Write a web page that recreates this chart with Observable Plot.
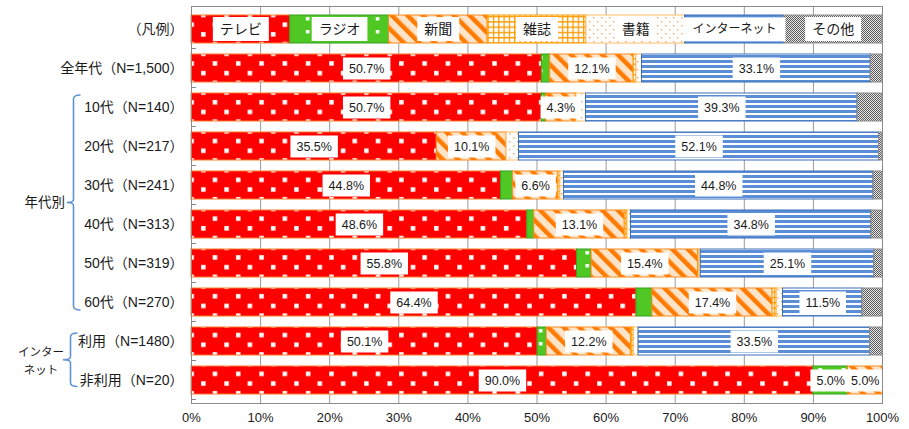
<!DOCTYPE html>
<html><head><meta charset="utf-8">
<script src="https://cdn.jsdelivr.net/npm/d3@7"></script>
<script src="https://cdn.jsdelivr.net/npm/@observablehq/plot@0.6"></script>
<style>body{margin:0;background:#fff} svg{display:block}</style>
</head><body><div id="chart"></div>
<script>
const legendLabel = "（凡例）";
const categories = ["全年代（N=1,500）", "10代（N=140）", "20代（N=217）", "30代（N=241）", "40代（N=313）", "50代（N=319）", "60代（N=270）", "利用（N=1480）", "非利用（N=20）"];
const media = ["テレビ", "ラジオ", "新聞", "雑誌", "書籍", "インターネット", "その他"];
const tv        = [50.7, 50.7, 35.5, 44.8, 48.6, 55.8, 64.4, 50.1, 90.0];
const radio     = [1.2, 0.6, 0.0, 1.7, 1.0, 2.1, 2.3, 1.3, 5.0];
const newspaper = [12.1, 4.3, 10.1, 6.6, 13.1, 15.4, 17.4, 12.2, 5.0];
const magazine  = [0.4, 0.1, 0.0, 0.3, 0.4, 0.2, 0.6, 0.4, 0.0];
const books     = [0.8, 1.4, 1.8, 0.5, 0.5, 0.2, 0.9, 0.7, 0.0];
const internet  = [33.1, 39.3, 52.1, 44.8, 34.8, 25.1, 11.5, 33.5, 0.0];
const other     = [1.7, 3.6, 0.5, 1.3, 1.6, 1.2, 2.9, 1.8, 0.0];
const ticks = [0, 10, 20, 30, 40, 50, 60, 70, 80, 90, 100];
const groupAge = "年代別";
const groupNet = ["インター", "ネット"];

const seriesValues = [tv, radio, newspaper, magazine, books, internet, other];
const fills = ["url(#p-tv)", "url(#p-radio)", "url(#p-news)", "url(#p-mag)", "url(#p-books)", "url(#p-net)", "url(#p-other)"];
const strokes = ["#FF7A2A", "#36A020", "#FF8A1A", "#FF9A00", "#FFBE66", "#3A70B8", "#8C8C8C"];

const rows = [];
media.forEach((m, j) => rows.push({cat: legendLabel, media: m, j, value: 100 / media.length, legend: true}));
categories.forEach((c, i) => media.forEach((m, j) => {
  const v = seriesValues[j][i];
  if (v > 0) rows.push({cat: c, media: m, j, value: v, legend: false});
}));

const chart = Plot.plot({
  width: 909, height: 429,
  marginLeft: 191, marginRight: 27, marginTop: 6, marginBottom: 26,
  style: {fontFamily: "'Liberation Sans','Noto Sans CJK JP',sans-serif", fontSize: "13px", color: "#1a1a1a", background: "#fff"},
  x: {domain: [0, 100]},
  y: {domain: [legendLabel, ...categories], paddingInner: 0.27, paddingOuter: 0.135},
  color: {type: "identity"},
  marks: [
    Plot.gridX(ticks, {stroke: "#9a9a9a", strokeOpacity: 1}),
    Plot.barX(rows, Plot.stackX({x: "value", y: "cat", fill: d => fills[d.j], stroke: d => strokes[d.j], strokeWidth: 1})),
    Plot.text(rows, Plot.stackX({
      x: "value", y: "cat",
      text: d => d.legend ? d.media : (d.value >= 4 ? d.value.toFixed(1) + "%" : ""),
      fontSize: d => d.legend ? (d.media.length > 4 ? 12 : 14) : 12.5,
      fill: "#1a1a1a",
      className: "seglabel"
    })),
    Plot.frame({stroke: "#8a8a8a"}),
    Plot.axisX(ticks, {tickFormat: d => d + "%", tickSize: 0, tickPadding: 9, fontSize: 13, label: null}),
    Plot.axisY({tickSize: 0, tickPadding: 8, fontSize: 14, label: null})
  ]
});
document.getElementById("chart").append(chart);

const svg = d3.select(chart);
const NS = "http://www.w3.org/2000/svg";
const defs = svg.insert("defs", ":first-child");
function pat(id, w, h, extra) {
  const p = defs.append("pattern").attr("id", id).attr("patternUnits", "userSpaceOnUse").attr("width", w).attr("height", h);
  if (extra) p.attr("patternTransform", extra);
  return p;
}
// TV
let p = pat("p-tv", 23.3, 19.4);
p.append("rect").attr("width", 23.3).attr("height", 19.4).attr("fill", "#FF0000");
p.append("rect").attr("x", 3).attr("y", 3).attr("width", 4.5).attr("height", 4.5).attr("fill", "#fff");
p.append("rect").attr("x", 14.65).attr("y", 12.7).attr("width", 4.5).attr("height", 4.5).attr("fill", "#fff");
// Radio
p = pat("p-radio", 23.3, 13);
p.append("rect").attr("width", 23.3).attr("height", 13).attr("fill", "#4FC823");
p.append("rect").attr("x", 3).attr("y", 4).attr("width", 3.5).attr("height", 3.5).attr("fill", "#fff");
// Newspaper
p = pat("p-news", 11, 11, "rotate(-45)");
p.append("rect").attr("width", 11).attr("height", 11).attr("fill", "#FDE4C8");
p.append("rect").attr("width", 4.5).attr("height", 11).attr("fill", "#FF7A00");
// Magazine
p = pat("p-mag", 5.3, 5.3);
p.append("rect").attr("width", 5.3).attr("height", 5.3).attr("fill", "#fff");
p.append("path").attr("d", "M0,0.6H5.3M0.6,0V5.3").attr("stroke", "#FF9A00").attr("stroke-width", 1.3);
// Books
p = pat("p-books", 8, 8);
p.append("rect").attr("width", 8).attr("height", 8).attr("fill", "#fff");
p.append("rect").attr("x", 1).attr("y", 1).attr("width", 1.5).attr("height", 1.5).attr("fill", "#F8B070");
p.append("rect").attr("x", 5).attr("y", 5).attr("width", 1.5).attr("height", 1.5).attr("fill", "#F8B070");
// Internet
p = pat("p-net", 10, 5);
p.append("rect").attr("width", 10).attr("height", 5).attr("fill", "#fff");
p.append("rect").attr("y", 0).attr("width", 10).attr("height", 3).attr("fill", "#5A8ED6");
// Other
p = pat("p-other", 2, 2);
p.append("rect").attr("width", 2).attr("height", 2).attr("fill", "#e8e8e8");
p.append("rect").attr("width", 1).attr("height", 1).attr("fill", "#5a5a5a");
p.append("rect").attr("x", 1).attr("y", 1).attr("width", 1).attr("height", 1).attr("fill", "#5a5a5a");

// white boxes behind labels
svg.selectAll(".seglabel text").each(function () {
  const t = this.textContent;
  if (!t) return;
  const bb = this.getBBox();
  if (bb.width === 0) return;
  const isLegend = media.includes(t);
  const h = isLegend ? 24 : 22;
  const pad = isLegend ? (t.length > 4 ? 9 : 7) : 6;
  const r = document.createElementNS(NS, "rect");
  r.setAttribute("x", bb.x - pad);
  r.setAttribute("y", bb.y + bb.height / 2 - h / 2);
  r.setAttribute("width", bb.width + 2 * pad);
  r.setAttribute("height", h);
  r.setAttribute("fill", "#fff");
  r.setAttribute("stroke", "none");
  const tr = this.getAttribute("transform");
  if (tr) r.setAttribute("transform", tr);
  this.parentNode.insertBefore(r, this);
});

// category boundary ticks and group brackets
const ys = chart.scale("y");
const bw = ys.bandwidth;
const step = ys.step || (bw / 0.73);
const yc = c => ys.apply(c) + bw / 2;
const x0 = chart.scale("x").apply(0);
const deco = svg.append("g");
[legendLabel, ...categories].forEach(c => {
  const yb = yc(c) + step / 2;
  if (yb < 400) deco.append("line").attr("x1", x0).attr("x2", x0 + 5).attr("y1", yb).attr("y2", yb).attr("stroke", "#8a8a8a");
});
function bracket(top, bottom, x, hook, nub) {
  const mid = (top + bottom) / 2;
  deco.append("path")
    .attr("d", `M${hook},${top} Q${x},${top} ${x},${top + 4} V${mid - 3} Q${x},${mid} ${nub},${mid} Q${x},${mid} ${x},${mid + 3} V${bottom - 4} Q${x},${bottom} ${hook},${bottom}`)
    .attr("fill", "none").attr("stroke", "#5F93D4").attr("stroke-width", 1.6);
  return mid;
}
const midAge = bracket(yc(categories[1]) - 12, yc(categories[6]) + 8, 73.5, 80.5, 67);
deco.append("text").attr("x", 65).attr("y", midAge).attr("dy", "0.35em").attr("text-anchor", "end")
  .attr("font-size", 13.5).attr("fill", "#1a1a1a").attr("font-family", "'Noto Sans CJK JP',sans-serif").text(groupAge);
const midNet = bracket(yc(categories[7]) - 8, yc(categories[8]) + 6.5, 70.5, 77.5, 63);
groupNet.forEach((s, i) => {
  deco.append("text").attr("x", 41).attr("y", midNet - 8 + i * 18).attr("dy", "0.35em").attr("text-anchor", "middle")
    .attr("font-size", 11.5).attr("fill", "#1a1a1a").attr("font-family", "'Noto Sans CJK JP',sans-serif").text(s);
});
</script>
</body></html>
